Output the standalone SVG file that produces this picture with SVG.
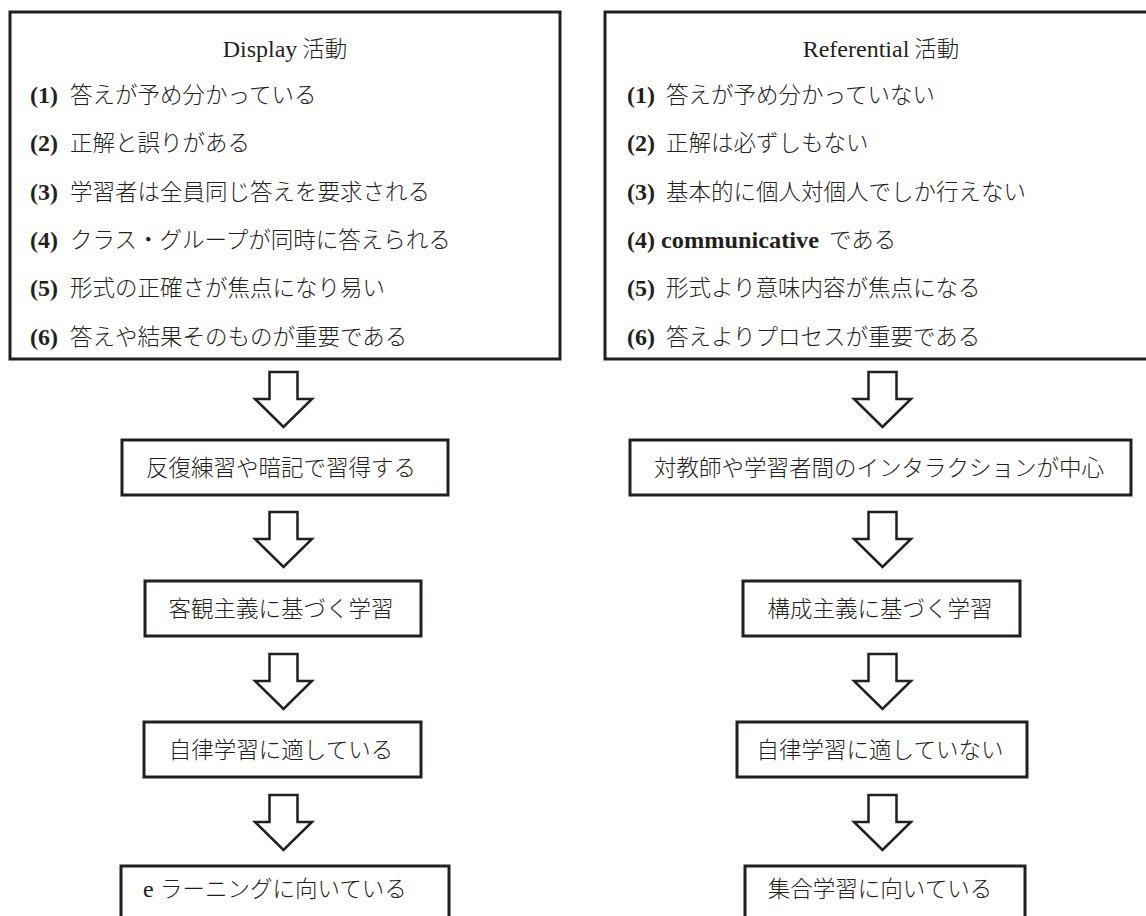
<svg xmlns="http://www.w3.org/2000/svg" width="1146" height="916" viewBox="0 0 1146 916">
<style>
.box{fill:#fff;stroke:#231f20;stroke-width:3}
.arr{fill:#fff;stroke:#231f20;stroke-width:2.5;stroke-linejoin:miter}
text{fill:#231f20;font-size:22.5px}
.cjk{font-family:'Noto Sans CJK JP','Noto Sans CJK SC',sans-serif;font-weight:300}
.lat{font-family:'Liberation Serif',serif;font-size:24px}
.num{font-family:'Liberation Serif',serif;font-size:24px;font-weight:bold}
.mid{text-anchor:middle}
</style>
<rect width="1146" height="916" fill="#fff"/>
<g id="display-box">
<rect class="box" x="10" y="12" width="550" height="347"/>
<text class="mid" x="285" y="57"><tspan class="lat">Display</tspan><tspan class="cjk"> 活動</tspan></text>
<text y="103"><tspan class="num" x="30">(1)</tspan><tspan class="cjk" x="70">答えが予め分かっている</tspan></text>
<text y="151"><tspan class="num" x="30">(2)</tspan><tspan class="cjk" x="70">正解と誤りがある</tspan></text>
<text y="200"><tspan class="num" x="30">(3)</tspan><tspan class="cjk" x="70">学習者は全員同じ答えを要求される</tspan></text>
<text y="248"><tspan class="num" x="30">(4)</tspan><tspan class="cjk" x="70">クラス・グループが同時に答えられる</tspan></text>
<text y="296"><tspan class="num" x="30">(5)</tspan><tspan class="cjk" x="70">形式の正確さが焦点になり易い</tspan></text>
<text y="345"><tspan class="num" x="30">(6)</tspan><tspan class="cjk" x="70">答えや結果そのものが重要である</tspan></text>
</g>
<g id="referential-box">
<rect class="box" x="605" y="12" width="560" height="347"/>
<text class="mid" x="881" y="57"><tspan class="lat">Referential</tspan><tspan class="cjk"> 活動</tspan></text>
<text y="103"><tspan class="num" x="627">(1)</tspan><tspan class="cjk" x="666">答えが予め分かっていない</tspan></text>
<text y="151"><tspan class="num" x="627">(2)</tspan><tspan class="cjk" x="666">正解は必ずしもない</tspan></text>
<text y="200"><tspan class="num" x="627">(3)</tspan><tspan class="cjk" x="666">基本的に個人対個人でしか行えない</tspan></text>
<text y="248"><tspan class="num" x="627">(4)</tspan><tspan class="num" x="661" textLength="158" lengthAdjust="spacingAndGlyphs">communicative</tspan><tspan class="cjk" x="829">である</tspan></text>
<text y="296"><tspan class="num" x="627">(5)</tspan><tspan class="cjk" x="666">形式より意味内容が焦点になる</tspan></text>
<text y="345"><tspan class="num" x="627">(6)</tspan><tspan class="cjk" x="666">答えよりプロセスが重要である</tspan></text>
</g>
<g id="connectors">
<path class="arr" d="M269.5,372 H297.5 V399 H312 L283.5,427 L255,399 H269.5 Z"/>
<path class="arr" d="M269.5,512 H297.5 V539 H312 L283.5,567 L255,539 H269.5 Z"/>
<path class="arr" d="M269.5,654 H297.5 V681 H312 L283.5,709 L255,681 H269.5 Z"/>
<path class="arr" d="M269.5,795 H297.5 V822 H312 L283.5,850 L255,822 H269.5 Z"/>
<path class="arr" d="M868.5,372 H896.5 V399 H911 L882.5,427 L854,399 H868.5 Z"/>
<path class="arr" d="M868.5,512 H896.5 V539 H911 L882.5,567 L854,539 H868.5 Z"/>
<path class="arr" d="M868.5,654 H896.5 V681 H911 L882.5,709 L854,681 H868.5 Z"/>
<path class="arr" d="M868.5,795 H896.5 V822 H911 L882.5,850 L854,822 H868.5 Z"/>
</g>
<g id="left-a">
<rect class="box" x="122" y="440" width="326" height="55"/>
<text class="cjk mid" x="281" y="476">反復練習や暗記で習得する</text>
</g>
<g id="left-b">
<rect class="box" x="145" y="581" width="276" height="55"/>
<text class="cjk mid" x="281" y="617">客観主義に基づく学習</text>
</g>
<g id="left-c">
<rect class="box" x="144" y="722" width="277" height="55"/>
<text class="cjk mid" x="281" y="758">自律学習に適している</text>
</g>
<g id="left-d">
<rect class="box" x="121" y="866" width="328" height="60"/>
<text y="897"><tspan class="lat" x="143">e</tspan><tspan class="cjk" x="160">ラーニングに向いている</tspan></text>
</g>
<g id="right-a">
<rect class="box" x="630" y="440" width="501" height="55"/>
<text class="cjk mid" x="879" y="476">対教師や学習者間のインタラクションが中心</text>
</g>
<g id="right-b">
<rect class="box" x="743" y="581" width="277" height="55"/>
<text class="cjk mid" x="880" y="617">構成主義に基づく学習</text>
</g>
<g id="right-c">
<rect class="box" x="737" y="722" width="290" height="55"/>
<text class="cjk mid" x="880" y="758">自律学習に適していない</text>
</g>
<g id="right-d">
<rect class="box" x="745" y="866" width="280" height="60"/>
<text class="cjk mid" x="880" y="897">集合学習に向いている</text>
</g>
</svg>
